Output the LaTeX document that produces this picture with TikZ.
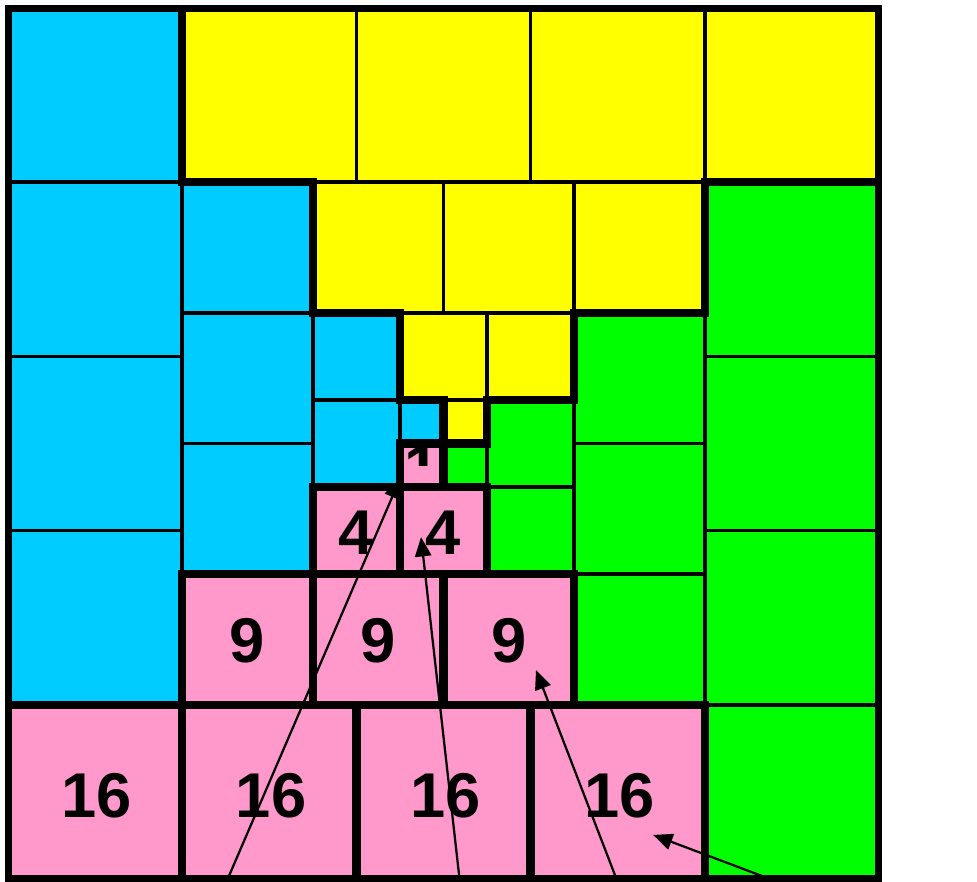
\documentclass[tikz,border=0pt]{standalone}
\usepackage{fontspec}
\setsansfont{Liberation Sans}
\usepackage{tikz}
\usetikzlibrary{arrows.meta}
\definecolor{cyanfill}{RGB}{0,204,255}
\definecolor{yellowfill}{RGB}{255,255,0}
\definecolor{greenfill}{RGB}{0,255,0}
\definecolor{pinkfill}{RGB}{255,153,204}
\tikzset{
  cell/.style={draw,line width=1.8pt},
  rim/.style={line width=4.1pt,line join=miter},
  frame/.style={line width=3.2pt},
  num/.style={font=\sffamily\bfseries\fontsize{31}{33}\selectfont,inner sep=0pt},
  ar/.style={-{Triangle[length=9.5pt,width=8pt]},line width=1.1pt},
}
\begin{document}
\begin{tikzpicture}[x=3cm,y=3cm]
  \useasboundingbox (-0.0459,-0.0115) rectangle (5.5626,5.0459);
  \begin{scope}
    \clip (0,0) rectangle (5,5);
    % four turned copies of the same staircase of cells
    \foreach \a/\col in {0/cyanfill,-90/yellowfill,-180/greenfill,90/pinkfill} {
      \begin{scope}[rotate around={\a:(2.5,2.5)}]
        \foreach \k/\l/\c in {4/0/1,3/1/0.75,2/1.75/0.5,1/2.25/0.25}
          \foreach \i in {1,...,\k}
            \filldraw[cell,fill=\col] (\l,\l+\i*\c) rectangle ++(\c,\c);
      \end{scope}
    }
    \foreach \a in {0,-90,-180} {
      \draw[rim,rotate around={\a:(2.5,2.5)}] (0,1) -- (0,5) -- (1,5) -- (1,4)
        -- (1.75,4) -- (1.75,3.25) -- (2.25,3.25) -- (2.25,2.75) -- (2.5,2.75)
        -- (2.5,2.5) -- (2.25,2.5) -- (2.25,2.25) -- (1.75,2.25) -- (1.75,1.75)
        -- (1,1.75) -- (1,1) -- cycle;
    }
    % pink squares each get a heavy outline
    \foreach \k/\l/\c in {4/0/1,3/1/0.75,2/1.75/0.5,1/2.25/0.25}
      \foreach \i in {1,...,\k}
        \draw[rim] (\l+\i*\c-\c,\l) rectangle ++(\c,\c);
  \end{scope}
  \draw[frame] (0,0) rectangle (5,5);

  \node[num] (p16a) at (0.51,0.48) {16};
  \node[num] (p16b) at (1.51,0.48) {16};
  \node[num] (p16c) at (2.51,0.48) {16};
  \node[num] (p16d) at (3.51,0.48) {16};
  \node[num] (p9a) at (1.375,1.37) {9};
  \node[num] (p9b) at (2.125,1.37) {9};
  \node[num] (p9c) at (2.875,1.37) {9};
  \node[num] (p4a) at (2,1.99) {4};
  \node[num] (p4b) at (2.5,1.99) {4};
  \begin{scope}
    \clip (2.27,2.371) rectangle (2.48,2.48);
    \node[num] (p1) at (2.375,2.36) {1};
  \end{scope}

  \coordinate (s1) at (1.261,0);
  \coordinate (t1) at (2.25,2.296);
  \coordinate (s2) at (2.592,0);
  \coordinate (t2) at (2.371,1.963);
  \coordinate (s3) at (3.493,0);
  \coordinate (t3) at (3.031,1.200);
  \coordinate (s4) at (4.374,0);
  \coordinate (t4) at (3.703,0.253);
  \draw[ar] (s1) -- (t1);
  \draw[ar] (s2) -- (t2);
  \draw[ar] (s3) -- (t3);
  \draw[ar] (s4) -- (t4);
\end{tikzpicture}
\end{document}
